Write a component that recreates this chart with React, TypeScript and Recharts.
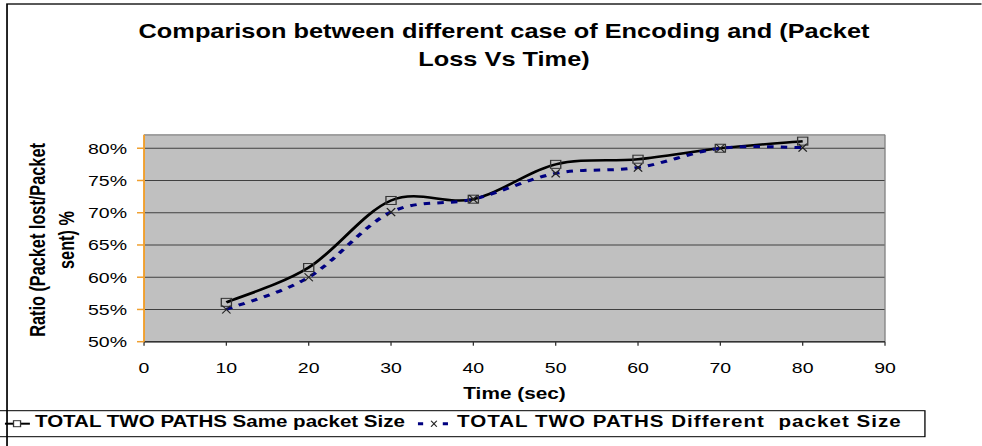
import { CartesianGrid, Line, LineChart, ReferenceLine, XAxis, YAxis } from 'recharts'

// the reference image is stretched horizontally, so we draw narrower and scale on x
const SX = 1.3
const W = 982 / SX
const H = 446

const time = [10, 20, 30, 40, 50, 60, 70, 80]
const samePacketSize = [56.1, 61.5, 71.9, 72.1, 77.5, 78.3, 80.0, 81.1]
const differentPacketSize = [55.0, 60.0, 70.1, 72.1, 76.1, 77.0, 80.0, 80.1]
const xTicks = [0, 10, 20, 30, 40, 50, 60, 70, 80, 90]
const yTicks = [50, 55, 60, 65, 70, 75, 80]

const data = time.map((t, i) => ({
  time: t,
  same: samePacketSize[i],
  different: differentPacketSize[i],
}))

// Excel-like smoothed line (Catmull-Rom through the points)
const excelSmooth = (context: any) => {
  let pts: [number, number][] = []
  return {
    areaStart() {},
    areaEnd() {},
    lineStart() {
      pts = []
    },
    point(x: number, y: number) {
      pts.push([+x, +y])
    },
    lineEnd() {
      if (!pts.length) return
      context.moveTo(pts[0][0], pts[0][1])
      for (let i = 0; i < pts.length - 1; i++) {
        const p0 = pts[Math.max(i - 1, 0)]
        const p1 = pts[i]
        const p2 = pts[i + 1]
        const p3 = pts[Math.min(i + 2, pts.length - 1)]
        context.bezierCurveTo(
          p1[0] + (p2[0] - p0[0]) / 6,
          p1[1] + (p2[1] - p0[1]) / 6,
          p2[0] - (p3[0] - p1[0]) / 6,
          p2[1] - (p3[1] - p1[1]) / 6,
          p2[0],
          p2[1],
        )
      }
    },
  }
}

const SquareDot = ({ cx, cy }: any) => {
  if (cx == null || cy == null) return null
  return <rect x={cx - 3.9} y={cy - 4} width={7.8} height={8} fill="none" stroke="#333" strokeWidth={1} />
}

const CrossDot = ({ cx, cy }: any) => {
  if (cx == null || cy == null) return null
  return (
    <g stroke="#222" strokeWidth={1}>
      <line x1={cx - 3.2} y1={cy - 4} x2={cx + 3.2} y2={cy + 4} />
      <line x1={cx - 3.2} y1={cy + 4} x2={cx + 3.2} y2={cy - 4} />
    </g>
  )
}

const boldText = { fontWeight: 'bold', fill: '#000' } as const

export default function App() {
  return (
    <div
      style={{
        position: 'absolute',
        left: 0,
        top: 0,
        width: W,
        height: H,
        overflow: 'hidden',
        background: '#fff',
        transform: `scaleX(${SX})`,
        transformOrigin: '0 0',
        fontFamily: '"Liberation Sans", Arial, sans-serif',
      }}
    >
      <LineChart width={W} height={H} data={data} margin={{ top: 134.7, right: 74.6, bottom: 74.3, left: 0 }}>
        <rect x={5.4} y={4} width={900} height={600} fill="none" stroke="#000" strokeWidth={1.3} />
        <text x={387.7} y={38.3} textAnchor="middle" fontSize={19.5} {...boldText}>
          Comparison between different case of Encoding and (Packet
        </text>
        <text x={387.7} y={66.3} textAnchor="middle" fontSize={19.5} {...boldText}>
          Loss Vs Time)
        </text>
        <text
          x={29.2}
          y={240}
          transform="rotate(-90 29.2 240)"
          textAnchor="middle"
          dominantBaseline="central"
          fontSize={16.3}
          {...boldText}
        >
          Ratio (Packet lost/Packet
        </text>
        <text
          x={51.5}
          y={240}
          transform="rotate(-90 51.5 240)"
          textAnchor="middle"
          dominantBaseline="central"
          fontSize={16.3}
          {...boldText}
        >
          sent) %
        </text>
        <text x={395.8} y={399.3} textAnchor="middle" fontSize={16} {...boldText}>
          Time (sec)
        </text>

        <CartesianGrid vertical={false} stroke="#404040" fill="#C0C0C0" fillOpacity={1} />
        <XAxis
          dataKey="time"
          type="number"
          domain={[0, 90]}
          ticks={xTicks}
          height={30}
          axisLine={{ stroke: '#333', strokeWidth: 1.5 }}
          tickLine={{ stroke: '#333' }}
          tickSize={4}
          tickMargin={16.3}
          tick={{ fill: '#000', fontSize: 15 }}
        />
        <YAxis
          type="number"
          domain={[50, 82.1]}
          ticks={yTicks}
          allowDataOverflow
          width={110.8}
          axisLine={{ stroke: '#F0A030', strokeWidth: 1.5 }}
          tickLine={{ stroke: '#F0A030', strokeWidth: 1.5 }}
          tickSize={5.4}
          tickMargin={7.7}
          tick={{ fill: '#000', fontSize: 15 }}
          tickFormatter={(v) => `${v}%`}
        />
        <ReferenceLine y={82.1} stroke="#A0A0A0" strokeWidth={1.2} />
        <ReferenceLine x={90} stroke="#808080" strokeWidth={1} />
        <Line
          dataKey="same"
          type={excelSmooth as any}
          stroke="#000"
          strokeWidth={2.5}
          dot={(p: any) => <SquareDot key={`s-${p.index}`} {...p} />}
          activeDot={false}
          isAnimationActive={false}
        />
        <Line
          dataKey="different"
          type={excelSmooth as any}
          stroke="#000080"
          strokeWidth={3}
          strokeDasharray="5 5.5"
          dot={(p: any) => <CrossDot key={`d-${p.index}`} {...p} />}
          activeDot={false}
          isAnimationActive={false}
        />

        {/* legend */}
        <rect x={-5} y={410.7} width={716.5} height={26} fill="none" stroke="#000" strokeWidth={1} />
        <line x1={3.8} y1={423.7} x2={23} y2={423.7} stroke="#000" strokeWidth={2} />
        <rect x={10.4} y={420.7} width={5.4} height={6} fill="#fff" stroke="#333" strokeWidth={1} />
        <text x={26.9} y={427.4} fontSize={15.8} {...boldText}>
          TOTAL TWO PATHS Same packet Size
        </text>
        <line x1={321.5} y1={423.7} x2={344.6} y2={423.7} stroke="#000080" strokeWidth={3} strokeDasharray="4 15.1" />
        <g stroke="#222" strokeWidth={1}>
          <line x1={331.6} y1={420.7} x2={336} y2={426.7} />
          <line x1={331.6} y1={426.7} x2={336} y2={420.7} />
        </g>
        <text x={351.5} y={427.4} fontSize={15.8} letterSpacing={0.8} style={{ whiteSpace: 'pre' }} {...boldText}>
          {'TOTAL TWO PATHS Different  packet Size'}
        </text>
      </LineChart>
    </div>
  )
}
